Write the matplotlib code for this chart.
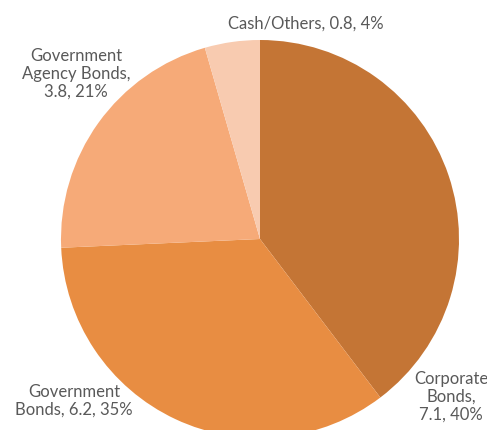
import matplotlib
matplotlib.use("Agg")
import matplotlib.pyplot as plt

# Portfolio allocation by asset class (value, share of total)
categories = ["Corporate Bonds", "Government Bonds", "Government Agency Bonds", "Cash/Others"]
values = [7.1, 6.2, 3.8, 0.8]
colors = ["#C47535", "#E88D42", "#F6AA78", "#F8CBB0"]
label_templates = [
    "Corporate\nBonds,\n{v}, {p}%",
    "Government\nBonds, {v}, {p}%",
    "Government\nAgency Bonds,\n{v}, {p}%",
    "Cash/Others, {v}, {p}%",
]

W, H = 487, 430
fig = plt.figure(figsize=(W / 100, H / 100), dpi=100)
ax = fig.add_axes([0, 0, 1, 1])

cx, cy, r = 260, H - 239, 199
ax.pie(values, colors=colors, startangle=90, counterclock=False,
       center=(cx, cy), radius=r, frame=True,
       wedgeprops=dict(linewidth=0))

ax.set_xlim(0, W)
ax.set_ylim(0, H)
ax.set_aspect("equal")
ax.axis("off")

total = sum(values)
label_pos = [(451, H - 397), (74, H - 401), (76, H - 74), (306, H - 24)]
for tpl, v, (x, y) in zip(label_templates, values, label_pos):
    txt = tpl.format(v=v, p=round(100 * v / total))
    ax.text(x, y, txt, ha="center", va="center", fontsize=12,
            color="#595959", family="Lato", linespacing=1.12)

fig.savefig("out.png", dpi=100)
